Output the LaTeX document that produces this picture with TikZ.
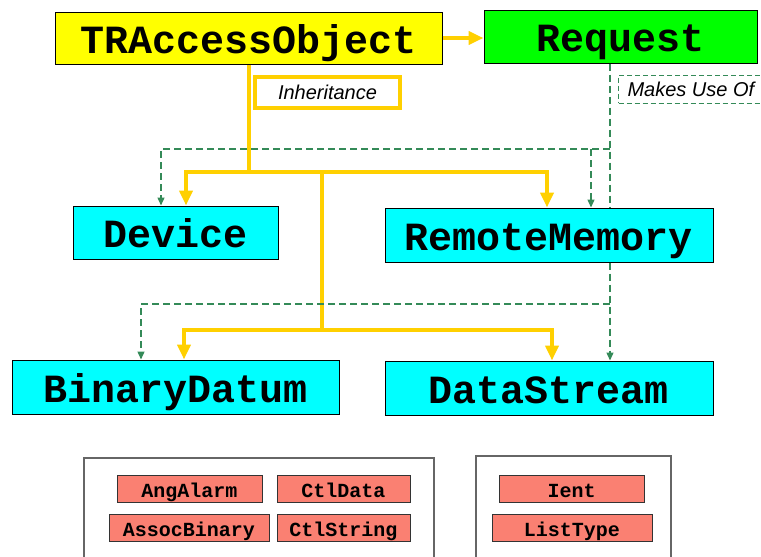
\documentclass[tikz,border=0pt]{standalone}
\usepackage{fontspec}
\setmainfont{Liberation Sans}
\setmonofont{Liberation Mono}
\usetikzlibrary{arrows.meta}
\usetikzlibrary{positioning}

\definecolor{gold}{RGB}{255,208,0}
\definecolor{seagreen}{RGB}{52,138,88}
\definecolor{salmon}{RGB}{250,128,114}
\definecolor{aqua}{RGB}{0,255,255}
\definecolor{lime}{RGB}{0,255,0}
\definecolor{lemon}{RGB}{255,255,0}

\tikzset{
  box/.style={draw=black, line width=1pt, inner sep=0pt,
    font=\fontsize{40}{40}\selectfont\ttfamily\bfseries,
    text height=30pt, text depth=0pt},
  member/.style={draw=black!80, fill=salmon, line width=0.8pt, inner sep=0pt,
    minimum height=27pt,
    font=\fontsize{20}{20}\selectfont\ttfamily\bfseries,
    text height=17pt, text depth=0pt},
  group/.style={draw=black!60, line width=1.2pt},
  inh/.style={gold, line width=4pt, >={Triangle[length=15pt,width=13pt]}},
  uses/.style={seagreen, line width=1.4pt, dash pattern=on 7pt off 4pt,
    >={Triangle[length=8pt,width=7pt]}},
  inhlabel/.style={draw=gold, fill=white, line width=4pt, inner sep=0pt,
    minimum width=145pt, minimum height=31pt,
    font=\fontsize{20}{20}\selectfont\itshape},
  uselabel/.style={draw=seagreen, fill=white, line width=1pt,
    dash pattern=on 5pt off 3pt, inner xsep=9pt, inner ysep=0pt,
    minimum height=28pt, font=\fontsize{20}{20}\selectfont\itshape}
}

\begin{document}
\begin{tikzpicture}[x=1pt,y=-1pt]
  \useasboundingbox (0,0) rectangle (761,557);
  \clip (0,0) rectangle (761,557);

  % classes
  \node[box, fill=lemon, minimum width=387pt, minimum height=52pt] (tra) at (248.5,38) {TRAccessObject};
  \node[box, fill=lime, minimum width=273pt, minimum height=53pt] (req) at (620.5,36.5) {Request};
  \node[box, fill=aqua, minimum width=205pt, minimum height=53pt] (dev) at (175.5,232.5) {Device};
  \node[box, fill=aqua, minimum width=328pt, minimum height=54pt] (rmem) at (549,235) {RemoteMemory};
  \node[box, fill=aqua, minimum width=327pt, minimum height=54pt] (bin) at (175.5,387) {BinaryDatum};
  \node[box, fill=aqua, minimum width=328pt, minimum height=54pt] (dstr) at (549,388) {DataStream};

  % legend labels
  \node[inhlabel] (inhlbl) at (327.5,92.5) {Inheritance};
  \node[uselabel, anchor=west] (uselbl) at (618,89) {Makes Use Of};

  % inheritance tree
  \draw[inh,->] (tra.east) -- (tra.east -| req.west);
  \draw[inh,->] (tra.south) |- (186,172) -- (186,0 |- dev.north);
  \draw[inh,->] (248,172) -- (547,172) -- (547,0 |- rmem.north);
  \draw[inh] (322,172) -- (322,330);
  \draw[inh,->] (322,330) -| (184,0 |- bin.north);
  \draw[inh,->] (322,330) -| (552,0 |- dstr.north);

  % uses relations
  \draw[uses] (610,0 |- req.south) -- (610,0 |- rmem.north);
  \draw[uses,->] (610,149) -| (161,0 |- dev.north);
  \draw[uses,->] (591,149) -- (591,0 |- rmem.north);
  \draw[uses,->] (610,0 |- rmem.south) -- (610,0 |- dstr.north);
  \draw[uses,->] (610,304) -| (141,0 |- bin.north);

  % helper class groups
  \draw[group] (84,458) rectangle (434,575);
  \draw[group] (476,456) rectangle (671,575);

  \node[member, minimum width=145pt] (ang) at (189.5,488.5) {AngAlarm};
  \node[member, minimum width=133pt] (ctld) at (343.5,488.5) {CtlData};
  \node[member, minimum width=160pt] (assoc) at (189,527.5) {AssocBinary};
  \node[member, minimum width=133pt] (ctls) at (343.5,527.5) {CtlString};
  \node[member, minimum width=145pt] (ient) at (571.5,488.5) {Ient};
  \node[member, minimum width=160pt] (list) at (572,527.5) {ListType};
\end{tikzpicture}
\end{document}
